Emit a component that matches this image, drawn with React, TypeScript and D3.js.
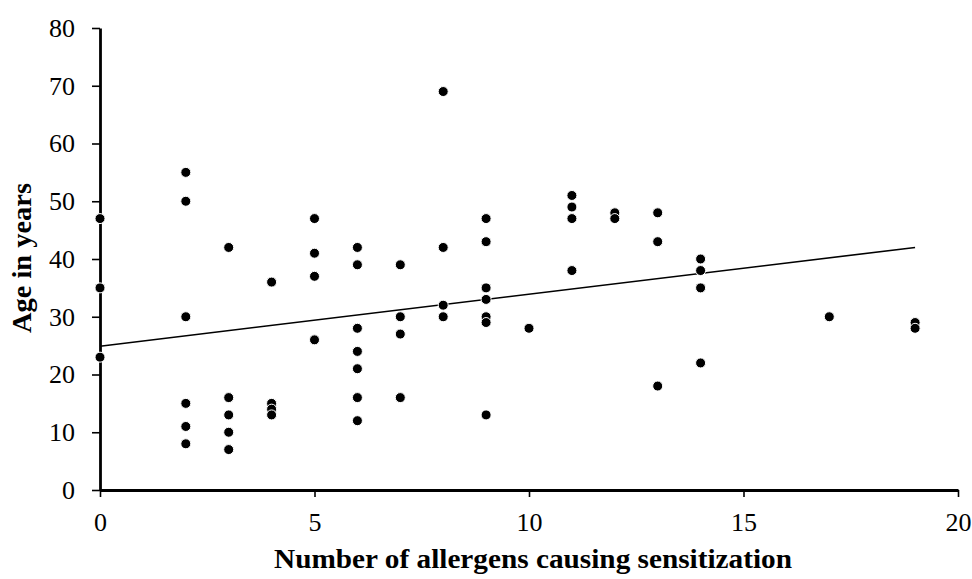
import React, { useEffect, useRef } from "react";
import * as d3 from "d3";

// allergen count per patient group and the ages
const allergenCounts = [0, 2, 3, 4, 5, 6, 7, 8, 9, 10, 11, 12, 13, 14, 17, 19];
const agesByCount = [
  [47, 35, 23],
  [55, 50, 30, 15, 11, 8],
  [42, 16, 13, 10, 7],
  [36, 15, 14, 13],
  [47, 41, 37, 26],
  [42, 39, 28, 24, 21, 16, 12],
  [39, 30, 27, 16],
  [69, 42, 32, 30],
  [47, 43, 35, 33, 30, 29, 13],
  [28],
  [51, 49, 47, 38],
  [48, 47],
  [48, 43, 18],
  [40, 38, 35, 22],
  [30],
  [29, 28],
];

// linear trend line as drawn in the chart
const trendIntercept = 24.9;
const trendSlope = 0.9;
const trendRange = [0, 19];

const xTicks = [0, 5, 10, 15, 20];
const yTicks = [0, 10, 20, 30, 40, 50, 60, 70, 80];

const xTitle = "Number of allergens causing sensitization";
const yTitle = "Age in years";

const W = 972;
const H = 579;
const margin = { top: 28, right: 14, bottom: 89, left: 100 };
const serif = "'Liberation Serif', 'Times New Roman', serif";

export default function App() {
  const ref = useRef<SVGSVGElement>(null);

  useEffect(() => {
    const svg = d3.select(ref.current);
    svg.selectAll("*").remove();

    const width = W - margin.left - margin.right;
    const height = H - margin.top - margin.bottom;

    const x = d3.scaleLinear().domain([0, 20]).range([0, width]);
    const y = d3.scaleLinear().domain([0, 80]).range([height, 0]);

    const g = svg.append("g").attr("transform", `translate(${margin.left},${margin.top})`);

    const points = allergenCounts.flatMap((c, i) => agesByCount[i].map((a) => ({ c, a })));

    // trend line
    const line = d3
      .line<number>()
      .x((d) => x(d))
      .y((d) => y(trendIntercept + trendSlope * d));
    g.append("path")
      .datum(trendRange)
      .attr("d", line)
      .attr("fill", "none")
      .attr("stroke", "#000")
      .attr("stroke-width", 1.6);

    // axes
    const yAxis = g
      .append("g")
      .call(d3.axisLeft(y).tickValues(yTicks).tickSize(8).tickSizeOuter(0).tickPadding(17));
    const xAxis = g
      .append("g")
      .attr("transform", `translate(0,${height})`)
      .call(d3.axisBottom(x).tickValues(xTicks).tickSize(7).tickSizeOuter(0).tickPadding(16));

    [xAxis, yAxis].forEach((a) => {
      a.select(".domain").attr("stroke", "#000").attr("stroke-width", 2.8);
      a.selectAll(".tick line").attr("stroke", "#000").attr("stroke-width", 1.6);
      a.selectAll(".tick text")
        .attr("fill", "#000")
        .style("font-family", serif)
        .style("font-size", "26px");
    });

    // dots
    g.selectAll("circle.dot")
      .data(points)
      .enter()
      .append("circle")
      .attr("class", "dot")
      .attr("cx", (d) => x(d.c))
      .attr("cy", (d) => y(d.a))
      .attr("r", 5)
      .attr("fill", "#000")
      .attr("stroke", "#fff")
      .attr("stroke-width", 1);

    // titles
    svg.append("text")
      .attr("x", 533)
      .attr("y", 568)
      .attr("text-anchor", "middle")
      .attr("textLength", 518)
      .attr("lengthAdjust", "spacingAndGlyphs")
      .style("font-family", serif)
      .style("font-weight", "bold")
      .style("font-size", "28px")
      .text(xTitle);

    svg.append("text")
      .attr("transform", `translate(31,258) rotate(-90)`)
      .attr("text-anchor", "middle")
      .attr("textLength", 150)
      .attr("lengthAdjust", "spacingAndGlyphs")
      .style("font-family", serif)
      .style("font-weight", "bold")
      .style("font-size", "28px")
      .text(yTitle);
  }, []);

  return (
    <svg
      ref={ref}
      width={W}
      height={H}
      style={{ position: "absolute", left: 0, top: 0, background: "#fff" }}
    />
  );
}
